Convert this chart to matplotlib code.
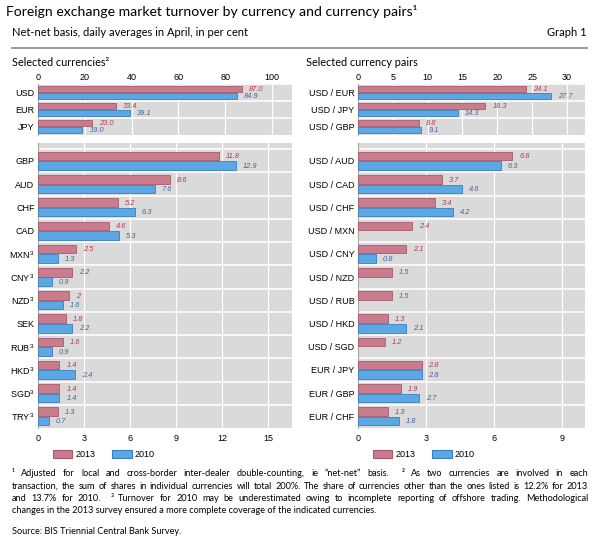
import matplotlib
matplotlib.use("Agg")
import matplotlib.pyplot as plt
from matplotlib.patches import Patch
import numpy as np

# Datos del gráfico (por ciento, promedios diarios en abril)
monedas_top = ["USD", "EUR", "JPY"]
monedas_top_2013 = [87.0, 33.4, 23.0]
monedas_top_2010 = [84.9, 39.1, 19.0]

monedas = ["GBP", "AUD", "CHF", "CAD", "MXN", "CNY", "NZD", "SEK", "RUB", "HKD", "SGD", "TRY"]
monedas_nota3 = ["MXN", "CNY", "NZD", "RUB", "HKD", "SGD", "TRY"]
monedas_2013 = [11.8, 8.6, 5.2, 4.6, 2.5, 2.2, 2, 1.8, 1.6, 1.4, 1.4, 1.3]
monedas_2010 = [12.9, 7.6, 6.3, 5.3, 1.3, 0.9, 1.6, 2.2, 0.9, 2.4, 1.4, 0.7]

pares_top = ["USD / EUR", "USD / JPY", "USD / GBP"]
pares_top_2013 = [24.1, 18.3, 8.8]
pares_top_2010 = [27.7, 14.3, 9.1]

pares = ["USD / AUD", "USD / CAD", "USD / CHF", "USD / MXN", "USD / CNY", "USD / NZD",
         "USD / RUB", "USD / HKD", "USD / SGD", "EUR / JPY", "EUR / GBP", "EUR / CHF"]
pares_2013 = [6.8, 3.7, 3.4, 2.4, 2.1, 1.5, 1.5, 1.3, 1.2, 2.8, 1.9, 1.3]
pares_2010 = [6.3, 4.6, 4.2, None, 0.8, None, None, 2.1, None, 2.8, 2.7, 1.8]

# Estilo
ROSA = "#cb7c8c"
ROSA_BORDE = "#a45a6a"
AZUL = "#5ca8e4"
AZUL_BORDE = "#3a7cc0"
TXT_ROSA = "#b83a4e"
TXT_AZUL = "#46649e"
FONDO = "#dadada"
FUENTE = "Lato"
FUENTE_EJES = "Liberation Sans"

plt.rcParams["font.family"] = FUENTE_EJES
plt.rcParams["mathtext.fontset"] = "custom"
plt.rcParams["mathtext.rm"] = FUENTE_EJES
plt.rcParams["mathtext.it"] = FUENTE_EJES

W, H = 600, 540
fig = plt.figure(figsize=(6, 5.4), dpi=100)


def caja(x0, y0, x1, y1):
    # convierte pixeles (arriba-izquierda) a coordenadas de figura
    return [x0 / W, 1 - y1 / H, (x1 - x0) / W, (y1 - y0) / H]


def dibujar_panel(ax, etiquetas, v2013, v2010, xmax, ticks, fmt, arriba, relleno=0.0):
    n = len(etiquetas)
    y = np.arange(n)
    alto = 0.37
    off = 0.205
    ax.set_facecolor(FONDO)
    for i in range(n):
        ax.barh(y[i] - off, v2013[i], height=alto, color=ROSA, edgecolor=ROSA_BORDE, linewidth=0.6, zorder=3)
        ax.annotate(fmt(v2013[i]), (v2013[i], y[i] - off), xytext=(5, -0.5), textcoords="offset points",
                    ha="left", va="center", fontsize=5.4, style="italic", color=TXT_ROSA, zorder=4)
        if v2010[i] is not None:
            ax.barh(y[i] + off, v2010[i], height=alto, color=AZUL, edgecolor=AZUL_BORDE, linewidth=0.6, zorder=3)
            ax.annotate(fmt(v2010[i]), (v2010[i], y[i] + off), xytext=(5, -0.5), textcoords="offset points",
                        ha="left", va="center", fontsize=5.4, style="italic", color=TXT_AZUL, zorder=4)
    ax.set_xlim(0, xmax)
    ax.set_ylim(n - 0.5, -0.5 - relleno)
    ax.set_xticks(ticks)
    ax.set_yticks(y)
    ax.set_yticklabels(etiquetas)
    for t in ticks[1:]:
        ax.axvline(t, color="white", linewidth=0.9, zorder=1)
    for k in range(n):
        ax.axhline(k - 0.5, color="white", linewidth=1.1, zorder=2)
    for s in ["top", "right", "bottom"]:
        ax.spines[s].set_visible(False)
    ax.spines["left"].set_color("#a8a8a8")
    ax.spines["left"].set_linewidth(0.8)
    ax.tick_params(axis="both", length=0, labelsize=6.5, pad=2.5)
    if arriba:
        ax.xaxis.tick_top()
        ax.tick_params(axis="x", pad=1.5)
    else:
        ax.tick_params(axis="x", pad=4)


def etiqueta_nota(c):
    return c + "$^{3}$" if c in monedas_nota3 else c


fmt_top = lambda v: "%.1f" % v
fmt_bajo = lambda v: "%g" % v

ax1 = fig.add_axes(caja(38, 84, 292, 135))
dibujar_panel(ax1, monedas_top, monedas_top_2013, monedas_top_2010, 108.5, [0, 20, 40, 60, 80, 100], fmt_top, True)

ax2 = fig.add_axes(caja(38, 143, 292, 428))
dibujar_panel(ax2, [etiqueta_nota(c) for c in monedas], monedas_2013, monedas_2010, 16.55,
              [0, 3, 6, 9, 12, 15], fmt_bajo, False, relleno=0.27)

ax3 = fig.add_axes(caja(358, 84, 585, 135))
dibujar_panel(ax3, pares_top, pares_top_2013, pares_top_2010, 32.6, [0, 5, 10, 15, 20, 25, 30], fmt_top, True)

ax4 = fig.add_axes(caja(358, 143, 585, 428))
dibujar_panel(ax4, pares, pares_2013, pares_2010, 10.0, [0, 3, 6, 9], fmt_bajo, False, relleno=0.27)

# Leyendas
manejadores = [Patch(facecolor=ROSA, edgecolor=ROSA_BORDE, linewidth=0.8),
               Patch(facecolor=AZUL, edgecolor=AZUL_BORDE, linewidth=0.8)]
for x0 in [48, 368]:
    fig.legend(manejadores, ["2013", "2010"], loc="upper left", bbox_to_anchor=(x0 / W, 1 - 445 / H),
               ncol=2, frameon=False, fontsize=6.5, borderpad=0, handlelength=2.2, handleheight=1.0,
               handletextpad=0.35, columnspacing=1.8)

# Títulos
fig.text(6 / W, 1 - 12 / H, "Foreign exchange market turnover by currency and currency pairs\u00b9",
         family=FUENTE, fontsize=10.1, va="center", ha="left")
fig.text(12 / W, 1 - 33 / H, "Net-net basis, daily averages in April, in per cent",
         family=FUENTE, fontsize=8.0, va="center", ha="left")
fig.text(587 / W, 1 - 33 / H, "Graph 1", family=FUENTE, fontsize=8.0, va="center", ha="right")
fig.add_artist(plt.Line2D([12 / W, 587 / W], [1 - 48 / H, 1 - 48 / H], color="#9a9a9a", linewidth=1.4))
fig.text(12 / W, 1 - 62 / H, "Selected currencies\u00b2", family=FUENTE, fontsize=7.8, va="center", ha="left")
fig.text(306 / W, 1 - 62 / H, "Selected currency pairs", family=FUENTE, fontsize=7.8, va="center", ha="left")

TAM_NOTA = 6.6


# Notas al pie, justificadas
def linea_justificada(texto, ypx, x0=12, x1=588, size=TAM_NOTA):
    r = fig.canvas.get_renderer()
    palabras = texto.split(" ")
    objs = [fig.text(0, 1 - ypx / H, p, family=FUENTE, fontsize=size, va="center", ha="left") for p in palabras]
    anchos = [o.get_window_extent(r).width if p else 0 for o, p in zip(objs, palabras)]
    hueco = ((x1 - x0) - sum(anchos)) / (len(palabras) - 1)
    x = x0
    for o, a in zip(objs, anchos):
        o.set_x(x / W)
        x += a + hueco


notas = [
    "\u00b9 Adjusted for local and cross-border inter-dealer double-counting, ie \u201cnet-net\u201d basis.  \u00b2 As two currencies are involved in each",
    "transaction, the sum of shares in individual currencies will total 200%. The share of currencies other than the ones listed is 12.2% for 2013",
    "and 13.7% for 2010.  \u00b3 Turnover for 2010 may be underestimated owing to incomplete reporting of offshore trading. Methodological",
]
for k, linea in enumerate(notas):
    linea_justificada(linea, 474 + 12.3 * k)
fig.text(12 / W, 1 - (474 + 12.3 * 3) / H,
         "changes in the 2013 survey ensured a more complete coverage of the indicated currencies.",
         family=FUENTE, fontsize=TAM_NOTA, va="center", ha="left")
fig.text(12 / W, 1 - 531 / H, "Source: BIS Triennial Central Bank Survey.",
         family=FUENTE, fontsize=TAM_NOTA, va="center", ha="left")

fig.savefig("out.png", dpi=100)
